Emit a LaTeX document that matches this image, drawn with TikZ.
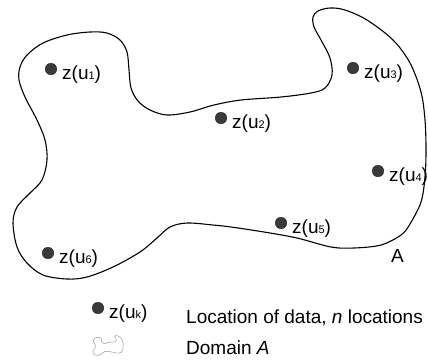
\documentclass[tikz,border=0pt]{standalone}
\usepackage{fontspec}
\setmainfont{Liberation Sans}
\usetikzlibrary{calc}

\newcommand{\subidx}[1]{{\fontsize{11}{11}\selectfont #1}}

\begin{document}
\begin{tikzpicture}[x=1pt,y=-1pt,
  txt/.style={font=\fontsize{19}{21}\selectfont, inner sep=0pt, anchor=base west},
  datadot/.style={circle, inner sep=0pt, minimum size=11.5pt,
    fill={rgb,255:red,58;green,58;blue,58}, draw={rgb,255:red,30;green,30;blue,30}, line width=0.4pt},
  pics/domain/.style={code={
    \draw[pic actions] plot[smooth cycle, tension=0.55] coordinates {
      (20,67) (27,55) (43,43) (67,35) (90,32) (107,33) (120,40) (127,52)
      (129,70) (131,88) (138,101) (150,110) (167,115) (190,112) (214,105)
      (241,100) (281,97) (311,93) (325,88) (332,75) (330,58) (321,40)
      (314,27) (313,17) (318,11) (330,8) (345,10) (367,20) (393,40)
      (410,63) (421,92) (425,120) (426,150) (425,177) (421,202) (410,224)
      (401,235) (381,245) (354,248) (331,247) (297,238) (264,232)
      (231,227) (213,225) (187,223) (170,227) (157,238) (140,252)
      (113,267) (87,277) (67,279) (43,275) (27,263) (17,247) (13,223)
      (17,207) (30,193) (42,180) (47,160) (45,140) (37,120) (25,97) (19,80)};
  }}]
  \useasboundingbox (0,0) rectangle (428,360);

  % domain outline
  \pic[draw=black, line width=1.1pt] (dom) at (0,0) {domain};

  % data locations
  \node[datadot] (d1) at (51,69) {};
  \node[datadot] (d2) at (221,118) {};
  \node[datadot] (d3) at (353,68) {};
  \node[datadot] (d4) at (378,171) {};
  \node[datadot] (d5) at (281,223) {};
  \node[datadot] (d6) at (48,253) {};

  \node[txt] (l1) at ($(d1.center)+(11,10)$) {z(u\subidx{1})};
  \node[txt] (l2) at ($(d2.center)+(11,10)$) {z(u\subidx{2})};
  \node[txt] (l3) at ($(d3.center)+(11,10)$) {z(u\subidx{3})};
  \node[txt] (l4) at ($(d4.center)+(11,10)$) {z(u\subidx{4})};
  \node[txt] (l5) at ($(d5.center)+(11,10)$) {z(u\subidx{5})};
  \node[txt] (l6) at ($(d6.center)+(11,10)$) {z(u\subidx{6})};

  \node[txt] (dA) at (391,262) {A};

  % legend
  \node[datadot] (dk) at (98,308) {};
  \node[txt] (lk) at ($(dk.center)+(11,10)$) {z(u\subidx{k})};
  \node[txt] (leg1) at (186,323) {Location of data, \textit{n} locations};

  \pic[draw=black!35, line width=0.6pt, scale=0.073] (icon) at (92,335) {domain};
  \node[txt] (leg2) at (186,354) {Domain \textit{A}};
\end{tikzpicture}
\end{document}
